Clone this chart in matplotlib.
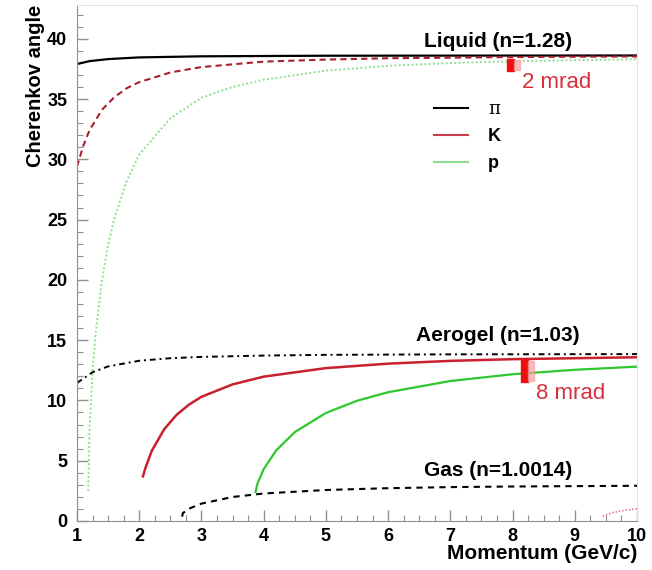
import matplotlib
matplotlib.use('Agg')
import matplotlib.pyplot as plt
from matplotlib.lines import Line2D
from matplotlib.patches import Rectangle
from matplotlib.ticker import MultipleLocator

plt.rcParams['font.family'] = ['Liberation Sans', 'DejaVu Sans']

# Cherenkov angle (deg) vs momentum (GeV/c)
# Liquid radiator, n = 1.28
liq_pi_p = [1.0, 1.2, 1.5, 2.0, 3.0, 5.0, 10.0]
liq_pi_th = [37.9, 38.14, 38.31, 38.45, 38.54, 38.59, 38.61]
liq_k_p = [1.0, 1.1, 1.2, 1.4, 1.6, 1.8, 2.0, 2.5, 3.0, 4.0, 5.0, 6.0, 8.0, 10.0]
liq_k_th = [29.4, 31.1, 32.4, 34.1, 35.15, 35.9, 36.4, 37.2, 37.65, 38.1, 38.27, 38.38, 38.48, 38.53]
liq_p_p = [1.18, 1.2, 1.25, 1.3, 1.4, 1.5, 1.6, 1.8, 2.0, 2.5, 3.0, 3.5, 4.0, 5.0, 6.0, 7.0, 8.0, 10.0]
liq_p_th = [2.5, 7.4, 12.4, 15.6, 19.9, 22.9, 25.1, 28.2, 30.4, 33.4, 35.1, 36.0, 36.6, 37.35, 37.75, 37.98, 38.13, 38.3]

# Aerogel, n = 1.03
aer_pi_p = [1.0, 1.25, 1.5, 2.0, 2.5, 3.0, 4.0, 5.0, 7.0, 10.0]
aer_pi_th = [11.45, 12.34, 12.82, 13.29, 13.5, 13.61, 13.72, 13.78, 13.82, 13.84]
aer_k_p = [2.06, 2.1, 2.2, 2.4, 2.6, 2.8, 3.0, 3.5, 4.0, 5.0, 6.0, 7.0, 8.0, 10.0]
aer_k_th = [3.7, 4.4, 5.8, 7.6, 8.8, 9.65, 10.3, 11.33, 11.97, 12.68, 13.05, 13.28, 13.42, 13.58]
aer_p_p = [3.87, 3.9, 4.0, 4.2, 4.5, 5.0, 5.5, 6.0, 7.0, 8.0, 9.0, 10.0]
aer_p_th = [2.4, 3.1, 4.3, 5.85, 7.37, 8.96, 9.97, 10.68, 11.61, 12.17, 12.54, 12.8]

# Gas, n = 1.0014
gas_pi_p = [2.69, 2.7, 2.8, 3.0, 3.5, 4.0, 5.0, 6.0, 7.0, 8.0, 10.0]
gas_pi_th = [0.36, 0.65, 1.02, 1.44, 1.99, 2.28, 2.57, 2.72, 2.81, 2.86, 2.92]
gas_k_p = [9.45, 9.6, 9.8, 10.0]
gas_k_th = [0.4, 0.68, 0.88, 1.02]

# angular resolution bands
res_p = [7.97, 8.19]
res_lo = [37.3, 11.55]
res_hi = [38.3, 13.4]
res_text = ['2 mrad', '8 mrad']

radiators = ['Liquid (n=1.28)', 'Aerogel (n=1.03)', 'Gas (n=1.0014)']
radiator_y = [39.75, 15.4, 4.2]

black = 'black'
red = '#c8202e'
green = '#2ec82e'
pale_green = '#8ee08e'

fig = plt.figure(figsize=(6.52, 5.70), dpi=100)
ax = fig.add_axes([0.1181, 0.086, 0.8589, 0.9053])

# liquid
ax.plot(liq_pi_p, liq_pi_th, color=black, lw=1.6)
ax.plot(liq_k_p, liq_k_th, color='#a8202c', lw=1.5, ls=(0, (3, 2)))
ax.plot(liq_p_p, liq_p_th, color=pale_green, lw=1.4, ls=(0, (1, 1.2)))
# aerogel
ax.plot(aer_pi_p, aer_pi_th, color=black, lw=1.4, ls=(0, (3, 2, 1, 2)))
ax.plot(aer_k_p, aer_k_th, color=red, lw=1.8)
ax.plot(aer_p_p, aer_p_th, color=green, lw=1.6)
# gas
ax.plot(gas_pi_p, gas_pi_th, color=black, lw=1.5, ls=(0, (3, 2.5)))
ax.plot(gas_k_p, gas_k_th, color='#e07080', lw=1.1, ls=(0, (1, 1.2)))

# resolution markers
for p, lo, hi, txt in zip(res_p, res_lo, res_hi, res_text):
    ax.add_patch(Rectangle((p - 0.055, lo), 0.11, hi - lo, color='#ee1010', zorder=4))
    ax.add_patch(Rectangle((p + 0.055, lo + 0.1), 0.1, hi - lo - 0.2,
                           color='#f4a0a0', alpha=0.7, zorder=4))
    ax.text(p + 0.18, lo - 0.95, txt, color='#d8303c', fontsize=16,
            ha='left', va='center')

for name, y in zip(radiators, radiator_y):
    ax.text(7.77, y, name, fontsize=15, fontweight='bold', ha='center', va='center')

handles = [Line2D([], [], color=black, lw=1.5),
           Line2D([], [], color='#c84050', lw=1.5),
           Line2D([], [], color='#90dd90', lw=1.5)]
leg = ax.legend(handles, ['π', 'K', 'p'], loc='upper left',
                bbox_to_anchor=(0.608, 0.847), frameon=False, fontsize=13,
                handlelength=1.9, handletextpad=1.1, labelspacing=0.55)
leg.get_texts()[0].set_family('DejaVu Serif')
for t in leg.get_texts()[1:]:
    t.set_fontweight('bold')

ax.set_xlim(1, 10)
ax.set_ylim(0, 42.8)
ax.xaxis.set_major_locator(MultipleLocator(1))
ax.xaxis.set_minor_locator(MultipleLocator(0.25))
ax.yaxis.set_major_locator(MultipleLocator(5))
ax.yaxis.set_minor_locator(MultipleLocator(1))
ax.tick_params(which='both', direction='in', color='#909090', top=False, right=False)
ax.tick_params(which='major', length=8, width=1)
ax.tick_params(which='minor', length=4, width=0.8)
ax.tick_params(axis='y', labelsize=13, pad=7)
ax.tick_params(axis='x', labelsize=13, pad=5)
for lab in ax.get_xticklabels() + ax.get_yticklabels():
    lab.set_fontweight('bold')

for side in ['left', 'bottom']:
    ax.spines[side].set_color('#909090')
for side in ['top', 'right']:
    ax.spines[side].set_color('#e2e2e2')

ax.set_ylabel('Cherenkov angle', fontsize=14.5, fontweight='bold', loc='top')
ax.yaxis.set_label_coords(-0.057, 1.0)
ax.set_xlabel('Momentum (GeV/c)', fontsize=15, fontweight='bold', loc='right')
ax.xaxis.set_label_coords(1.0, -0.044)

fig.savefig('out.png', dpi=100)
